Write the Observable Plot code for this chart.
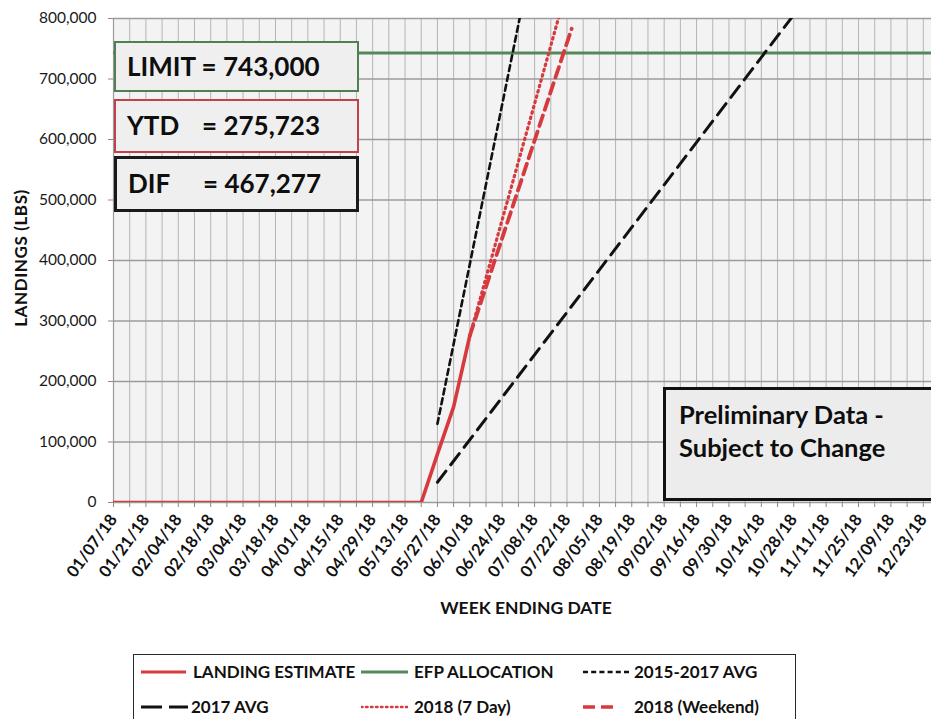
<!DOCTYPE html>
<html>
<head>
<meta charset="utf-8">
<script src="https://cdn.jsdelivr.net/npm/d3@7"></script>
<script src="https://cdn.jsdelivr.net/npm/@observablehq/plot@0.6"></script>
<style>
  html, body { margin: 0; padding: 0; background: #fff; }
  #wrap { position: relative; width: 931px; height: 719px; overflow: hidden; font-family: Lato, "Open Sans", sans-serif; color: #141414; }
  #chart { position: absolute; left: 0; top: 0; }
  .box { position: absolute; box-sizing: border-box; background: #efefef; font-weight: bold; font-size: 26px; color: #0e0e0e; }
  .box span { position: absolute; top: 50%; transform: translateY(-52%); white-space: nowrap; }
  .lbl { position: absolute; font-weight: bold; white-space: nowrap; color: #111; }
  #legend { position: absolute; left: 133px; top: 654px; width: 663px; height: 80px; box-sizing: border-box; border: 1.5px solid #2a2a2a; background: #fff; }
  .li { position: absolute; font-weight: bold; font-size: 17px; white-space: nowrap; line-height: 20px; color: #111; }
  .sw { position: absolute; }
</style>
</head>
<body>
<div id="wrap">
  <div id="chart"></div>
</div>
<script>
// ---------- data ----------
const tickLabels = ["01/07/18","01/21/18","02/04/18","02/18/18","03/04/18","03/18/18","04/01/18","04/15/18","04/29/18","05/13/18","05/27/18","06/10/18","06/24/18","07/08/18","07/22/18","08/05/18","08/19/18","09/02/18","09/16/18","09/30/18","10/14/18","10/28/18","11/11/18","11/25/18","12/09/18","12/23/18"];
const yTicks = [0, 100000, 200000, 300000, 400000, 500000, 600000, 700000, 800000];

const landingWeeks = ["01/07/18","01/14/18","01/21/18","01/28/18","02/04/18","02/11/18","02/18/18","02/25/18","03/04/18","03/11/18","03/18/18","03/25/18","04/01/18","04/08/18","04/15/18","04/22/18","04/29/18","05/06/18","05/13/18","05/20/18","05/27/18","06/03/18","06/10/18"];
const landingValues = [0,0,0,0,0,0,0,0,0,0,0,0,0,0,0,0,0,0,0,0,80000,158000,275723];

const limitValue = 743000;
const ytdValue = 275723;

const avg1517Dates = ["05/27/18","07/08/18"];
const avg1517Values = [130000, 922000];

const avg2017Dates = ["05/27/18","10/28/18"];
const avg2017Values = [33500, 806000];

const sevenDayDates = ["06/10/18","07/22/18"];
const sevenDayValues = [275723, 851000];

const weekendDates = ["06/10/18","07/24/18"];
const weekendValues = [275723, 783000];

const axisStart = "01/07/18";
const axisEnd = "12/30/18";

// ---------- build ----------
const parse = d3.utcParse("%m/%d/%y");
const fmtDate = d3.utcFormat("%m/%d/%y");
const toRows = (ds, vs) => ds.map((d, i) => ({date: parse(d), value: vs[i]}));

const landing = toRows(landingWeeks, landingValues);
const avg1517 = toRows(avg1517Dates, avg1517Values);
const avg2017 = toRows(avg2017Dates, avg2017Values);
const sevenDay = toRows(sevenDayDates, sevenDayValues);
const weekend = toRows(weekendDates, weekendValues);
const tickDates = tickLabels.map(parse);
const x0 = parse(axisStart), x1 = parse(axisEnd);
const weeks = d3.utcSunday.range(x0, d3.utcDay.offset(x1, 1));

const RED = "#d63a3f";
const GREEN = "#55885a";

const chart = Plot.plot({
  width: 931,
  height: 640,
  marginTop: 18,
  marginBottom: 138,
  marginLeft: 113,
  marginRight: 0,
  style: {fontFamily: "Lato, 'Open Sans', sans-serif", color: "#141414", background: "transparent", overflow: "hidden"},
  x: {type: "utc", domain: [x0, x1], range: [113, 939]},
  y: {domain: [0, 800000], range: [502, 18]},
  marks: [
    Plot.frame({fill: "#f3f3f3", stroke: null}),
    Plot.ruleX(weeks, {stroke: "#b4b4b4", strokeWidth: 1}),
    Plot.ruleY(yTicks, {stroke: "#9c9c9c", strokeWidth: 1.4}),
    Plot.ruleX([x0], {stroke: "#9a9a9a", strokeWidth: 1.2}),
    Plot.ruleY([limitValue], {stroke: GREEN, strokeWidth: 3.2}),
    Plot.line(avg2017, {x: "date", y: "value", stroke: "#111", strokeWidth: 3, strokeDasharray: "14,8", clip: true}),
    Plot.line(avg1517, {x: "date", y: "value", stroke: "#111", strokeWidth: 2.6, strokeDasharray: "6,4", clip: true}),
    Plot.line(sevenDay, {x: "date", y: "value", stroke: RED, strokeWidth: 3.2, strokeDasharray: "1.5,4", strokeLinecap: "round", clip: true}),
    Plot.line(weekend, {x: "date", y: "value", stroke: RED, strokeWidth: 3.8, strokeDasharray: "11,6", clip: true}),
    Plot.line(landing, {x: "date", y: "value", stroke: RED, strokeWidth: 3.6, clip: true}),
    Plot.axisY({ticks: yTicks, tickFormat: d3.format(","), tickSize: 5, tickPadding: 12, fontSize: 15.5, stroke: "#8a8a8a", fill: "#1a1a1a", label: null}),
    Plot.axisX({ticks: weeks, tickFormat: () => "", tickSize: 5, stroke: "#8a8a8a", label: null}),
    Plot.axisX({ticks: tickDates, tickFormat: fmtDate, tickSize: 0, tickPadding: 14, tickRotate: -54, fontSize: 16.5, fontWeight: "bold", fill: "#111", label: null})
  ]
});
document.getElementById("chart").appendChild(chart);

// ---------- annotations & legend ----------
const wrap = document.getElementById("wrap");
const fmtN = d3.format(",");
function addBox(left, top, w, h, border, parts) {
  const b = document.createElement("div");
  b.className = "box";
  Object.assign(b.style, {left: left + "px", top: top + "px", width: w + "px", height: h + "px", border: border});
  parts.forEach(([txt, x]) => {
    const s = document.createElement("span");
    s.textContent = txt; s.style.left = x + "px";
    b.appendChild(s);
  });
  wrap.appendChild(b);
}
addBox(114, 41, 245, 51, "2.5px solid #4f7f52", [["LIMIT = " + fmtN(limitValue), 11]]);
addBox(114, 99, 245, 54, "2.5px solid #c2414b", [["YTD", 11], ["= " + fmtN(ytdValue), 86]]);
addBox(114, 156, 245, 56, "3px solid #1a1a1a", [["DIF", 11], ["= " + fmtN(limitValue - ytdValue), 86]]);

const prelim = document.createElement("div");
prelim.className = "box";
Object.assign(prelim.style, {left: "663px", top: "387px", width: "290px", height: "114px", border: "3.5px solid #111", background: "#ececec", fontSize: "25.5px", lineHeight: "33px", padding: "8px 0 0 13px"});
prelim.innerHTML = "Preliminary Data -<br>Subject to Change";
wrap.appendChild(prelim);

const yl = document.createElement("div");
yl.className = "lbl";
yl.textContent = "LANDINGS (LBS)";
Object.assign(yl.style, {left: "20px", top: "258px", fontSize: "17px", letterSpacing: "0.6px", transform: "translate(-50%,-50%) rotate(-90deg)"});
wrap.appendChild(yl);

const xl = document.createElement("div");
xl.className = "lbl";
xl.textContent = "WEEK ENDING DATE";
Object.assign(xl.style, {left: "526px", top: "607px", fontSize: "17.5px", transform: "translate(-50%,-50%)"});
wrap.appendChild(xl);

const legend = document.createElement("div");
legend.id = "legend";
wrap.appendChild(legend);
const items = [
  {label: "LANDING ESTIMATE", color: RED, dash: null, w: 3, sx: 7, sw: 45, tx: 59, row: 0},
  {label: "EFP ALLOCATION", color: GREEN, dash: null, w: 3, sx: 227, sw: 47, tx: 280, row: 0},
  {label: "2015-2017 AVG", color: "#111", dash: "5,3.2", w: 2.5, sx: 449, sw: 48, tx: 500, row: 0},
  {label: "2017 AVG", color: "#111", dash: "21,7", w: 3, sx: 7, sw: 47, tx: 57, row: 1},
  {label: "2018 (7 Day)", color: RED, dash: "1.5,3.5", w: 2.5, sx: 227, sw: 47, tx: 280, row: 1},
  {label: "2018 (Weekend)", color: RED, dash: "12,6", w: 3.5, sx: 449, sw: 31, tx: 500, row: 1}
];
items.forEach(it => {
  const cy = it.row === 0 ? 17 : 52;
  const svg = d3.create("svg").attr("class", "sw").attr("width", it.sw).attr("height", 8)
    .style("left", it.sx + "px").style("top", (cy - 4) + "px");
  svg.append("line").attr("x1", 0).attr("x2", it.sw).attr("y1", 4).attr("y2", 4)
    .attr("stroke", it.color).attr("stroke-width", it.w)
    .attr("stroke-dasharray", it.dash).attr("stroke-linecap", it.dash && it.dash.startsWith("1.5") ? "round" : "butt");
  legend.appendChild(svg.node());
  const t = document.createElement("div");
  t.className = "li"; t.textContent = it.label;
  t.style.left = it.tx + "px"; t.style.top = (cy - 10) + "px";
  legend.appendChild(t);
});
</script>
</body>
</html>
